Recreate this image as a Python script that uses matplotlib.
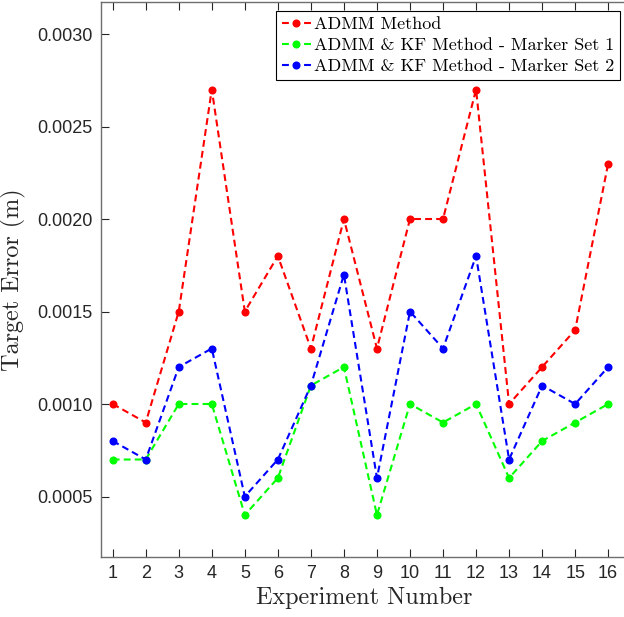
import matplotlib
matplotlib.use('Agg')
import matplotlib.pyplot as plt
import numpy as np

experiments = np.arange(1, 17)
admm = [0.0010, 0.0009, 0.0015, 0.0027, 0.0015, 0.0018, 0.0013, 0.0020,
        0.0013, 0.0020, 0.0020, 0.0027, 0.0010, 0.0012, 0.0014, 0.0023]
kf_set1 = [0.0007, 0.0007, 0.0010, 0.0010, 0.0004, 0.0006, 0.0011, 0.0012,
           0.0004, 0.0010, 0.0009, 0.0010, 0.0006, 0.0008, 0.0009, 0.0010]
kf_set2 = [0.0008, 0.0007, 0.0012, 0.0013, 0.0005, 0.0007, 0.0011, 0.0017,
           0.0006, 0.0015, 0.0013, 0.0018, 0.0007, 0.0011, 0.0010, 0.0012]
names = ['ADMM Method',
         'ADMM & KF Method - Marker Set 1',
         'ADMM & KF Method - Marker Set 2']
yticks = [0.0005, 0.0010, 0.0015, 0.0020, 0.0025, 0.0030]

W, H = 624, 617
fig = plt.figure(figsize=(W / 100, H / 100), dpi=100)
# axes box in pixels: left 101, bottom 557, top 2; right side runs off the image
ax = fig.add_axes([101 / W, (H - 557) / H, 527 / W, 555 / H])

for vals, col, name in zip([admm, kf_set1, kf_set2],
                           ['#ff0000', '#00ff00', '#0000ff'], names):
    ax.plot(experiments, vals, color=col, lw=1.5, dashes=(3.3, 2.0),
            marker='o', ms=4.8, label=name)

ax.set_xlim(0.646, 16.6)
ax.set_ylim(0.000173, 0.003173)
ax.set_xticks(experiments)
ax.set_yticks(yticks)
ax.set_yticklabels(['%.4f' % v for v in yticks])

spine_col = '#6e6e6e'
for side in ['left', 'bottom', 'top']:
    ax.spines[side].set_color(spine_col)
    ax.spines[side].set_linewidth(1.0)
ax.spines['right'].set_visible(False)
ax.tick_params(direction='in', length=6, width=0.8, color='#262626',
               top=True, labelsize=13, labelcolor='#262626', pad=6)
for lab in ax.get_xticklabels() + ax.get_yticklabels():
    lab.set_family('Liberation Sans')

ax.set_xlabel('Experiment Number', family='cmr10', fontsize=17.4,
              color='#262626', labelpad=3)
ax.set_ylabel('Target Error (m)', family='cmr10', fontsize=17.4,
              color='#262626', labelpad=8)

# legend box sits at the top right of the picture, x 281..620, y 11..79
leg = ax.legend(loc='upper right', bbox_to_anchor=(620 / W, 1 - 11 / H),
                bbox_transform=fig.transFigure,
                prop={'family': 'cmr10', 'size': 13}, frameon=True,
                fancybox=False, framealpha=1, edgecolor='black',
                handlelength=1.6, handletextpad=0.2, borderpad=0.3,
                labelspacing=0.3, borderaxespad=0)
leg.get_frame().set_linewidth(0.8)

fig.savefig('out.png', dpi=100)
